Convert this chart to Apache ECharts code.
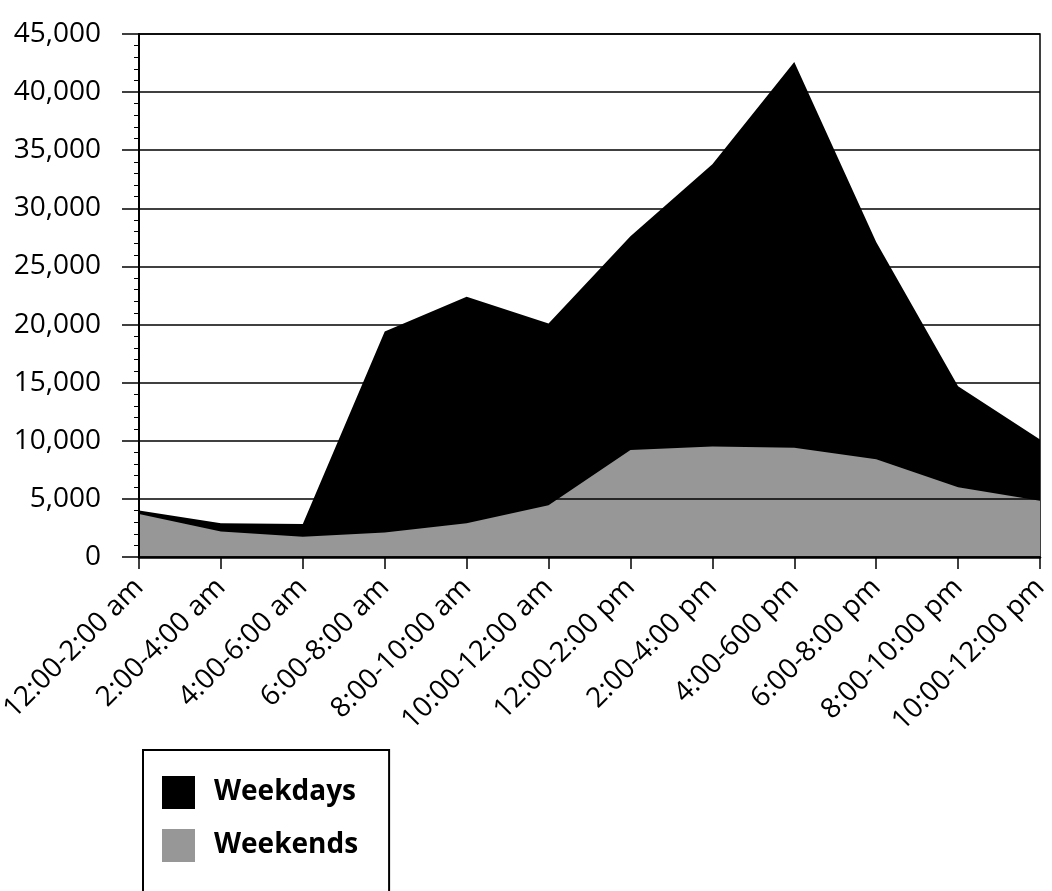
<!DOCTYPE html>
<html>
<head>
<meta charset="utf-8">
<script src="https://cdn.jsdelivr.net/npm/echarts@6/dist/echarts.min.js"></script>
<style>
  html, body { margin: 0; padding: 0; background: #fff; }
  #chart { width: 1052px; height: 891px; }
</style>
</head>
<body>
<div id="chart"></div>
<script>
// Two-hour time slots across the day
const timeSlots = [
  '12:00-2:00 am', '2:00-4:00 am', '4:00-6:00 am', '6:00-8:00 am',
  '8:00-10:00 am', '10:00-12:00 am', '12:00-2:00 pm', '2:00-4:00 pm',
  '4:00-600 pm', '6:00-8:00 pm', '8:00-10:00 pm', '10:00-12:00 pm'
];

// Counts per time slot
const weekdays = [4000, 2900, 2850, 19400, 22400, 20100, 27600, 33800, 42600, 27100, 14700, 10100];
const weekends = [3700, 2200, 1750, 2100, 2900, 4450, 9200, 9500, 9400, 8400, 6000, 4850];

// Value axis range and step
const yMin = 0;
const yMax = 45000;
const yStep = 5000;

const FONT = '"Open Sans", "Noto Sans", sans-serif';

const chart = echarts.init(document.getElementById('chart'), null, { renderer: 'canvas' });

chart.setOption({
  backgroundColor: '#ffffff',
  animation: false,
  grid: {
    left: 139,
    right: 12,
    top: 34,
    bottom: 334,
    outerBoundsMode: 'none',
    containLabel: false,
    show: true,
    borderColor: '#000',
    borderWidth: 1.5,
    backgroundColor: 'transparent'
  },
  legend: {
    orient: 'vertical',
    left: 143,
    top: 750,
    height: 200,
    padding: [26, 31, 60, 19],
    itemGap: 20,
    itemWidth: 33,
    itemHeight: 33,
    icon: 'rect',
    borderColor: '#000',
    borderWidth: 2,
    textStyle: {
      fontFamily: FONT,
      fontSize: 28,
      fontWeight: 'bold',
      color: '#000',
      padding: [0, 0, 0, 14]
    },
    data: ['Weekdays', 'Weekends']
  },
  xAxis: {
    type: 'category',
    data: timeSlots,
    boundaryGap: false,
    z: 5,
    axisLine: { show: true, lineStyle: { color: '#000', width: 2.5 } },
    axisTick: { show: true, inside: false, length: 12, lineStyle: { color: '#000', width: 1.5 } },
    axisLabel: {
      rotate: 45,
      margin: 26,
      fontFamily: FONT,
      fontSize: 28,
      color: '#000',
      interval: 0
    },
    splitLine: { show: false }
  },
  yAxis: {
    type: 'value',
    min: yMin,
    max: yMax,
    interval: yStep,
    z: 5,
    axisLine: { show: true, lineStyle: { color: '#000', width: 2 } },
    axisTick: { show: true, length: 17, lineStyle: { color: '#000', width: 1.5 } },
    minorTick: { show: true, splitNumber: 5, length: 5, lineStyle: { color: '#000', width: 1 } },
    axisLabel: {
      margin: 38,
      fontFamily: FONT,
      fontSize: 28,
      color: '#000',
      formatter: v => v.toLocaleString('en-US')
    },
    splitLine: { show: true, lineStyle: { color: '#000', width: 1.5 } }
  },
  series: [
    {
      name: 'Weekdays',
      type: 'line',
      data: weekdays,
      showSymbol: false,
      symbol: 'none',
      color: '#000000',
      lineStyle: { width: 0 },
      areaStyle: { color: '#000000', opacity: 1 }
    },
    {
      name: 'Weekends',
      type: 'line',
      data: weekends,
      showSymbol: false,
      symbol: 'none',
      color: '#979797',
      lineStyle: { width: 0 },
      areaStyle: { color: '#979797', opacity: 1 }
    }
  ]
});
</script>
</body>
</html>
